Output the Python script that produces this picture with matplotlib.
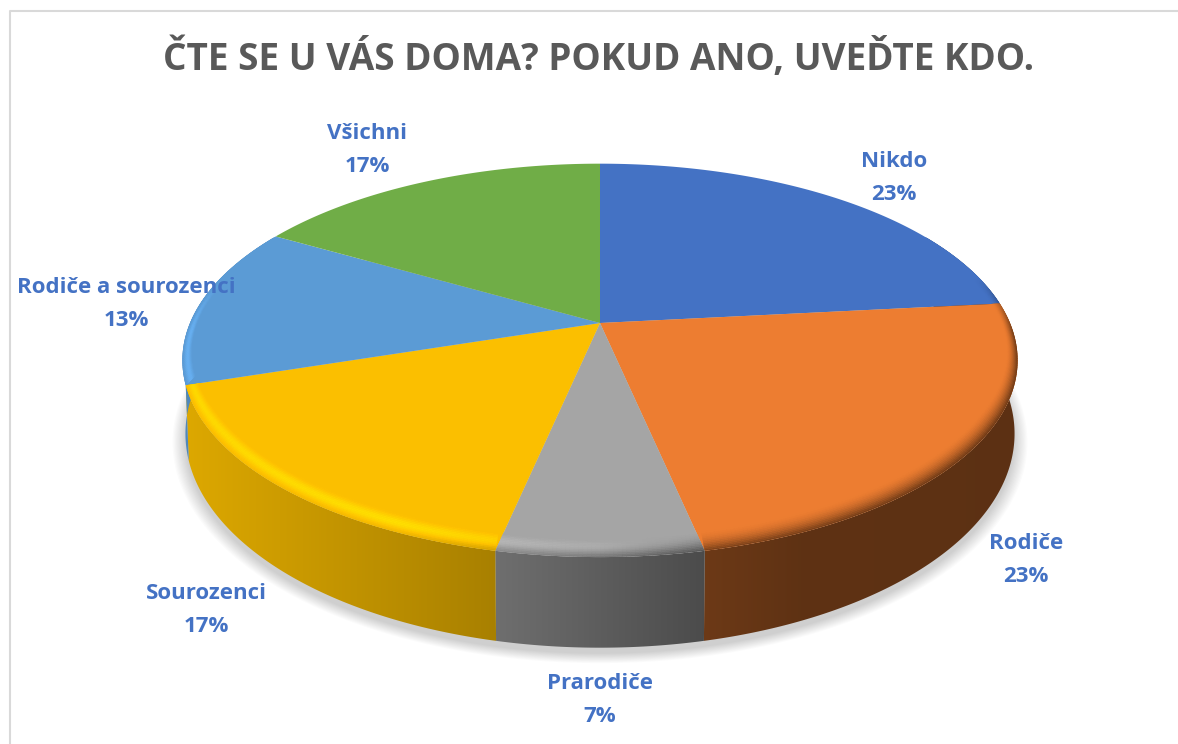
import numpy as np
import matplotlib
matplotlib.use("Agg")
import matplotlib.pyplot as plt
from matplotlib.collections import PolyCollection
from matplotlib.colors import to_rgb
from matplotlib.patches import Polygon

title = "ČTE SE U VÁS DOMA? POKUD ANO, UVEĎTE KDO."
categories = ["Nikdo", "Rodiče", "Prarodiče", "Sourozenci", "Rodiče a sourozenci", "Všichni"]
counts = [7, 7, 2, 5, 4, 5]
colors = ["#4472C4", "#ED7D31", "#A5A5A5", "#FBBF00", "#5B9BD5", "#70AD47"]
label_x = [894, 1026, 600, 206, 126, 367]
label_y = [178, 560, 700, 610, 304, 150]

# perspective of the top and bottom disc
CX = 600
TOP = dict(cy=323, a=410, b=189.6, k=0.19)
BOT = dict(cy=393, a=407, b=206.3, k=0.19)


def project(t, r, disc, dy=0):
    """t in degrees clockwise from 12 o'clock, r radius 0..1"""
    rad = np.radians(t)
    X = r * np.sin(rad)
    Y = r * np.cos(rad)
    w = 1 + disc["k"] * Y
    return CX + disc["a"] * X / w, disc["cy"] - disc["b"] * Y / w + dy


def shade(col, f):
    return tuple(np.clip(np.array(to_rgb(col)) * f, 0, 1))


fig = plt.figure(figsize=(11.78, 7.44), dpi=100)
ax = fig.add_axes([0, 0, 1, 1])
ax.axis("off")

# chart frame
ax.plot([9.5, 9.5, 1178], [744, 10.5, 10.5], color="#D9D9D9", lw=1.5, zorder=1)

# soft shadow under the pie
tt = np.linspace(0, 360, 361)
for r in np.linspace(1.03, 1.0, 12):
    sx, sy = project(tt, r, BOT, dy=6)
    ax.fill(sx, sy, color="black", alpha=0.016, lw=0, zorder=2)

edges = np.cumsum([0] + counts) / sum(counts) * 360

# side wall, brightness goes with x only
grad_x = np.linspace(170, 1030, 430)
grad_f = np.interp(grad_x, [185, 497, 703, 800, 1020], [0.88, 0.67, 0.46, 0.40, 0.39])
for i, col in enumerate(colors):
    ts = np.arange(edges[i], edges[i + 1] + 0.5, 0.5)
    ts = ts[(ts > 60) & (ts < 300)]
    if len(ts) < 2:
        continue
    xt, yt = project(ts, 1, TOP)
    xb, yb = project(ts[::-1], 1, BOT)
    wall = Polygon(np.c_[np.r_[xt, xb], np.r_[yt, yb]], closed=True, fc="none", ec="none",
                   transform=ax.transData)
    ax.add_patch(wall)
    img = np.array([shade(col, f) for f in grad_f])[None, :, :]
    im = ax.imshow(img, extent=(170, 1030, 700, 100), aspect="auto", interpolation="bilinear",
                   zorder=3 + i * 0.01)
    im.set_clip_path(wall)

# top face
faces = []
for i, col in enumerate(colors):
    ts = np.linspace(edges[i], edges[i + 1], 200)
    x, y = project(ts, 1, TOP)
    face = Polygon(np.c_[np.r_[CX, x], np.r_[TOP["cy"], y]], closed=True, fc=col, ec="none", zorder=4)
    ax.add_patch(face)
    faces.append(face)

# bevel round the front rim, kept inside each slice
steps = np.linspace(0, 1, 13)
for i, col in enumerate(colors):
    ts = np.arange(edges[i], edges[i + 1] + 0.5, 0.5)
    ts = ts[(ts > 60) & (ts < 300)]
    if len(ts) < 2:
        continue
    band_polys, band_cols = [], []
    for t0, t1 in zip(ts[:-1], ts[1:]):
        fade = np.clip((0.25 - np.cos(np.radians(t0))) / 0.3, 0, 1)
        for s0, s1 in zip(steps[:-1], steps[1:]):
            pts = []
            for t, s in [(t0, s0), (t1, s0), (t1, s1), (t0, s1)]:
                xo, yo = project(t, 1, TOP)
                lift = -12 * np.clip((0.3 - np.cos(np.radians(t))) / 0.8, 0, 1)
                xi, yi = project(t, 0.975, TOP, dy=lift)
                pts.append((xo + (xi - xo) * s, yo + (yi - yo) * s))
            x = pts[0][0]
            sm = (s0 + s1) / 2
            edge = np.interp(x, [185, 400, 600, 703, 1020], [1.0, 0.96, 0.72, 0.5, 0.42])
            peak = np.interp(x, [185, 400, 600, 703, 1020], [0.14, 0.18, 0.12, 0.02, 0.0])
            f = 1 + (edge - 1) * (1 - sm) ** 1.6 + peak * np.sin(np.pi * sm) ** 2
            f = 1 + (f - 1) * fade
            band_polys.append(pts)
            band_cols.append(shade(col, f))
    band = PolyCollection(band_polys, facecolors=band_cols, edgecolors=band_cols,
                          linewidths=0.3, zorder=5)
    ax.add_collection(band)
    band.set_clip_path(faces[i])

ax.set_xlim(0, 1178)
ax.set_ylim(744, 0)

plt.rcParams["font.family"] = ["Open Sans", "DejaVu Sans"]

ax.text(599, 59, title, ha="center", va="center", fontsize=26.6, fontweight="bold",
        color="#595959", zorder=6)

total = sum(counts)
for name, c, lx, ly in zip(categories, counts, label_x, label_y):
    pct = round(c / total * 100)
    ax.text(lx, ly, f"{name}\n{pct}%", ha="center", va="center", fontsize=16, fontweight="bold",
            color="#4472C4", linespacing=1.75, zorder=6)

fig.savefig("out.png", dpi=100, facecolor="white")
